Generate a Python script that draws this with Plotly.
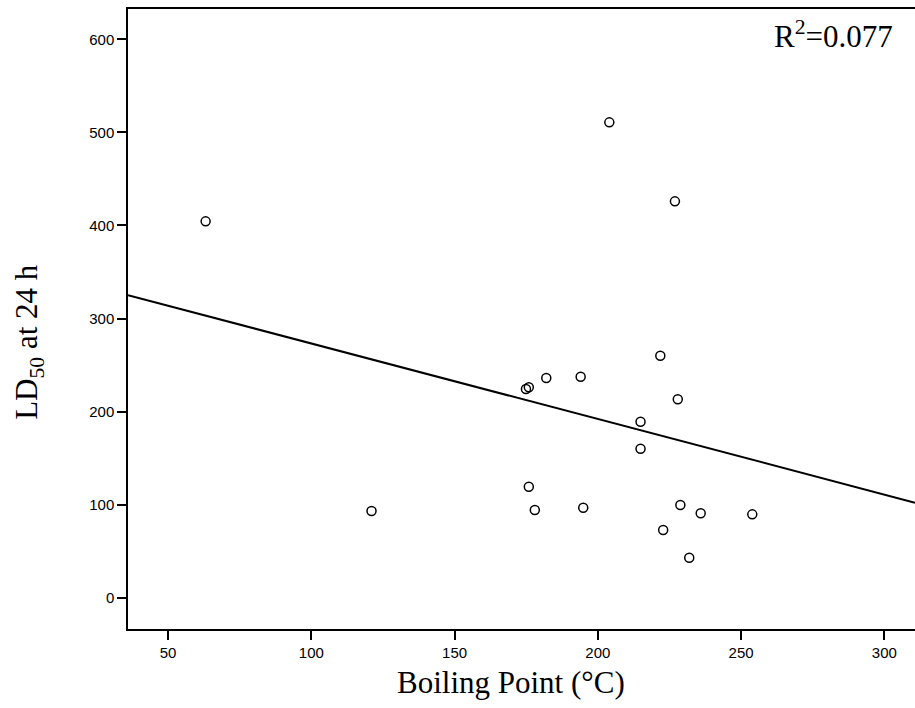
import numpy as np
import plotly.graph_objects as go

# Data
boiling_point = [63.1, 174.9, 175.9, 182.0, 194.0, 221.8, 227.9, 214.9, 214.9, 175.9,
                 178.0, 121.0, 194.9, 228.8, 235.9, 253.9, 222.8, 231.9, 204.0, 226.9]
ld50 = [404.4, 224.2, 226.1, 236.1, 237.5, 260.0, 213.2, 189.1, 160.1, 119.3,
        94.2, 93.2, 96.7, 99.6, 90.7, 89.6, 72.7, 43.0, 510.8, 425.9]
x_ticks = [50, 100, 150, 200, 250, 300]
y_ticks = [0, 100, 200, 300, 400, 500, 600]
r2_label = "R<sup>2</sup>=0.077"
x_title = "Boiling Point (°C)"
y_title = "LD<sub>50</sub> at 24 h"

x_range = [36.0, 310.7]
y_range = [-33.6, 632.6]

# Least-squares fit line
slope, intercept = np.polyfit(boiling_point, ld50, 1)
fit_x = np.array(x_range)
fit_y = slope * fit_x + intercept

SANS = "Arial, Liberation Sans, sans-serif"
SERIF = "Times New Roman, Liberation Serif, serif"

fig = go.Figure()
fig.add_trace(go.Scatter(
    x=fit_x, y=fit_y, mode="lines",
    line=dict(color="black", width=2), hoverinfo="skip", showlegend=False,
))
fig.add_trace(go.Scatter(
    x=boiling_point, y=ld50, mode="markers",
    marker=dict(symbol="circle-open", size=9, color="black", line=dict(width=1.5)),
    showlegend=False,
))

fig.update_layout(
    width=915, height=708,
    margin=dict(l=128, r=0, t=9, b=79),
    paper_bgcolor="white", plot_bgcolor="white",
    font=dict(family=SANS, color="black"),
    xaxis=dict(
        range=x_range, tickvals=x_ticks, ticks="outside", ticklen=9, tickwidth=1.5,
        tickcolor="black", showline=True, linecolor="black", linewidth=1.5, mirror=True,
        showgrid=False, zeroline=False, tickfont=dict(family=SANS, size=15, color="black"),
    ),
    yaxis=dict(
        range=y_range, tickvals=y_ticks, ticks="outside", ticklen=9, tickwidth=1.5,
        tickcolor="black", showline=True, linecolor="black", linewidth=1.5, mirror=False,
        showgrid=False, zeroline=False, tickfont=dict(family=SANS, size=15, color="black"),
    ),
    annotations=[
        dict(text=r2_label, xref="paper", yref="paper", x=0.975, y=0.993,
             xanchor="right", yanchor="top", showarrow=False,
             font=dict(family=SERIF, size=31, color="black")),
        dict(text=x_title, xref="paper", yref="paper", x=0.487, y=-0.0865,
             xanchor="center", yanchor="middle", showarrow=False,
             font=dict(family=SERIF, size=31, color="black")),
        dict(text=y_title, xref="paper", yref="paper", x=-0.1256, y=0.4634,
             xanchor="center", yanchor="middle", showarrow=False, textangle=-90,
             font=dict(family=SERIF, size=31, color="black")),
    ],
)

fig.write_html(
    "out.html",
    config={"displayModeBar": False},
    post_script="document.body.style.margin='0';document.body.style.overflow='hidden';",
)
